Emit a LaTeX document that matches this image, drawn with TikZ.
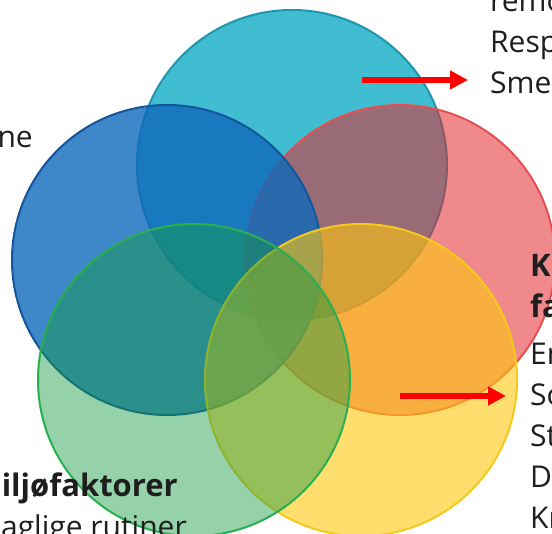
\documentclass[tikz,border=0pt]{standalone}
\usepackage{fontspec}
\setmainfont{Open Sans}
\usetikzlibrary{arrows.meta}

\definecolor{cyanfill}{RGB}{64,189,209}
\definecolor{cyanline}{RGB}{30,150,175}
\definecolor{bluefill}{RGB}{14,105,186}
\definecolor{blueline}{RGB}{20,85,155}
\definecolor{redfill}{RGB}{227,40,44}
\definecolor{redline}{RGB}{228,80,82}
\definecolor{greenfill}{RGB}{21,155,66}
\definecolor{greenline}{RGB}{40,175,80}
\definecolor{yellowfill}{RGB}{255,200,14}
\definecolor{yellowline}{RGB}{245,200,30}
\definecolor{textgrey}{RGB}{30,30,30}

\begin{document}
\begin{tikzpicture}[
    x=1pt, y=-1pt,
    petal/.style={line width=2pt},
    label/.style={font=\fontsize{30}{36}\selectfont, text=textgrey, inner sep=0pt},
    heading/.style={label, font=\fontsize{31}{36}\selectfont\bfseries},
    pointer/.style={red, line width=6pt, -{Triangle[length=18pt, width=18pt]}}]
    \useasboundingbox (0,0) rectangle (552,534);
    \clip (0,0) rectangle (552,534);

    % Sirkler
    \draw[petal, cyanline, fill=cyanfill] (292,165) circle[radius=155];
    \draw[petal, redline, fill=redfill, fill opacity=0.55] (400,260) circle[radius=155];
    \draw[petal, blueline, fill=bluefill, fill opacity=0.8] (167,260) circle[radius=155];
    \draw[petal, yellowline, fill=yellowfill, fill opacity=0.6] (361,380) circle[radius=156];
    \draw[petal, greenline, fill=greenfill, fill opacity=0.45] (194,380) circle[radius=156];

    % Tekst oppe til hoyre
    \node[label, anchor=base west] (remo) at (490,12) {remo};
    \node[label, anchor=base west] (resp) at (490,53) {Resp};
    \node[label, anchor=base west] (sme) at (490,94) {Sme};

    % Tekst til venstre
    \node[label, anchor=base east] (ne) at (33,148) {ne};

    % Tekst til hoyre
    \node[heading, anchor=base west] (kr) at (530,277) {Kr};
    \node[heading, anchor=base west] (fa) at (530,318) {fa};
    \node[label, anchor=base west] (en) at (530,365) {En};
    \node[label, anchor=base west] (so) at (530,406) {So};
    \node[label, anchor=base west] (st) at (530,447) {St};
    \node[label, anchor=base west] (d) at (530,488) {D};
    \node[label, anchor=base west] (kr2) at (530,529) {Kr};

    % Tekst nede til venstre
    \node[heading, anchor=base east] (miljo) at (178,497) {Miljøfaktorer};
    \node[label, anchor=base east] (rutiner) at (187,538) {daglige rutiner};

    % Piler
    \coordinate (pil1) at (362,80);
    \coordinate (pil1end) at (468,80);
    \coordinate (pil2) at (400,396);
    \coordinate (pil2end) at (506,396);
    \draw[pointer] (pil1) -- (pil1end);
    \draw[pointer] (pil2) -- (pil2end);
\end{tikzpicture}
\end{document}
